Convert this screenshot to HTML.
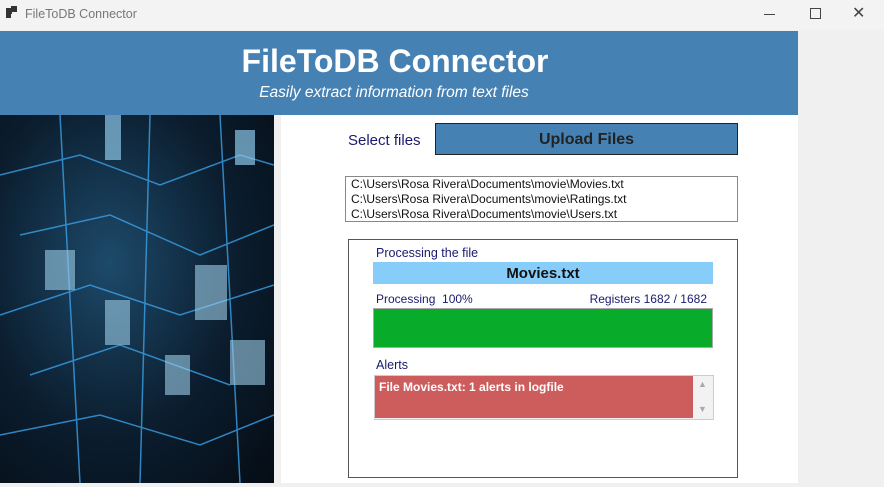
<!DOCTYPE html>
<html><head><style>
body{margin:0;width:884px;height:487px;background:#f0f0f0;position:relative;overflow:hidden;font-family:"Liberation Sans",sans-serif}
.a{position:absolute}
.t{font-family:"Liberation Sans",sans-serif}
</style></head><body>
<div class="a" style="left:0;top:0;width:884px;height:30px;background:#f3f3f3"></div>
<div class="a" style="left:6px;top:8px;width:6px;height:6px;background:#333"></div>
<div class="a" style="left:11px;top:6px;width:6px;height:6px;background:#333"></div>
<div class="a" style="left:6px;top:13px;width:5px;height:5px;background:#333"></div>
<div class="a t" style="left:25px;top:7px;font-size:12.5px;color:#777">FileToDB Connector</div>
<div class="a" style="left:764px;top:14px;width:11px;height:1px;background:#444"></div>
<div class="a" style="left:810px;top:8px;width:9px;height:9px;border:1px solid #444"></div>
<div class="a" style="left:852px;top:3px;font-size:16px;color:#444">✕</div>
<div class="a" style="left:0;top:31px;width:798px;height:84px;background:#4681b4"></div>
<div class="a" style="left:0;top:43px;width:790px;text-align:center;font-size:32px;font-weight:bold;color:#fff">FileToDB Connector</div>
<div class="a" style="left:0;top:84px;width:788px;text-align:center;font-size:15.5px;font-style:italic;color:#fff">Easily extract information from text files</div>
<div class="a" style="left:0;top:115px;width:274px;height:368px;background:radial-gradient(ellipse at 40% 40%,#1d4a6a 0%,#0b1d2e 55%,#050c14 100%)">
<svg width="274" height="368" style="position:absolute;left:0;top:0" stroke="#3aa0e8" stroke-width="1.5" fill="none" opacity="0.8">
<path d="M0 60 L80 40 L160 70 L240 40 L274 50 M20 120 L110 100 L200 140 L274 110 M0 200 L90 170 L180 200 L274 170 M30 260 L120 230 L230 270 M0 320 L100 300 L200 330 L274 300 M60 0 L80 368 M150 0 L140 368 M220 0 L240 368"/>
</svg>
<div class="a" style="left:105px;top:0;width:16px;height:45px;background:#8cc8e8;opacity:.7"></div>
<div class="a" style="left:235px;top:15px;width:20px;height:35px;background:#8cc8e8;opacity:.7"></div>
<div class="a" style="left:45px;top:135px;width:30px;height:40px;background:#9ccde8;opacity:.6"></div>
<div class="a" style="left:195px;top:150px;width:32px;height:55px;background:#9ccde8;opacity:.6"></div>
<div class="a" style="left:105px;top:185px;width:25px;height:45px;background:#9ccde8;opacity:.6"></div>
<div class="a" style="left:230px;top:225px;width:35px;height:45px;background:#9ccde8;opacity:.6"></div>
<div class="a" style="left:165px;top:240px;width:25px;height:40px;background:#9ccde8;opacity:.6"></div>
</div>
<div class="a" style="left:281px;top:115px;width:517px;height:368px;background:#fff"></div>
<div class="a t" style="left:348px;top:132px;font-size:15px;color:#1a1a6e">Select files</div>
<div class="a" style="left:435px;top:123px;width:301px;height:30px;background:#4681b4;border:1px solid #222;text-align:center;line-height:32px;font-size:16px;font-weight:bold;color:#222">Upload Files</div>
<div class="a t" style="left:345px;top:176px;width:386px;height:44px;border:1px solid #888;font-size:12px;line-height:15px;color:#111;padding-left:5px;box-sizing:content-box">C:\Users\Rosa Rivera\Documents\movie\Movies.txt<br>C:\Users\Rosa Rivera\Documents\movie\Ratings.txt<br>C:\Users\Rosa Rivera\Documents\movie\Users.txt</div>
<div class="a" style="left:348px;top:239px;width:388px;height:237px;border:1px solid #555"></div>
<div class="a t" style="left:376px;top:246px;font-size:12.5px;color:#1a1a6e">Processing the file</div>
<div class="a" style="left:373px;top:262px;width:340px;height:22px;background:#87cdfa;text-align:center;font-size:15px;font-weight:bold;line-height:23px;color:#111">Movies.txt</div>
<div class="a t" style="left:376px;top:292px;font-size:12px;color:#1a1a6e">Processing &nbsp;100%</div>
<div class="a t" style="left:540px;top:292px;width:167px;text-align:right;font-size:12px;color:#1a1a6e">Registers 1682 / 1682</div>
<div class="a" style="left:373px;top:308px;width:338px;height:38px;background:#09ac2a;border:1px solid #aaa"></div>
<div class="a t" style="left:376px;top:358px;font-size:12.5px;color:#1a1a6e">Alerts</div>
<div class="a" style="left:374px;top:375px;width:338px;height:43px;border:1px solid #ccc;background:#f2f2f2"></div>
<div class="a" style="left:375px;top:376px;width:318px;height:42px;background:#cd5c5c;color:#fff;font-weight:bold;font-size:12px;padding:4px 0 0 4px;box-sizing:border-box">File Movies.txt: 1 alerts in logfile</div>
<div class="a" style="left:698px;top:379px;font-size:9px;color:#aaa">▲</div>
<div class="a" style="left:698px;top:404px;font-size:9px;color:#aaa">▼</div>
</body></html>
